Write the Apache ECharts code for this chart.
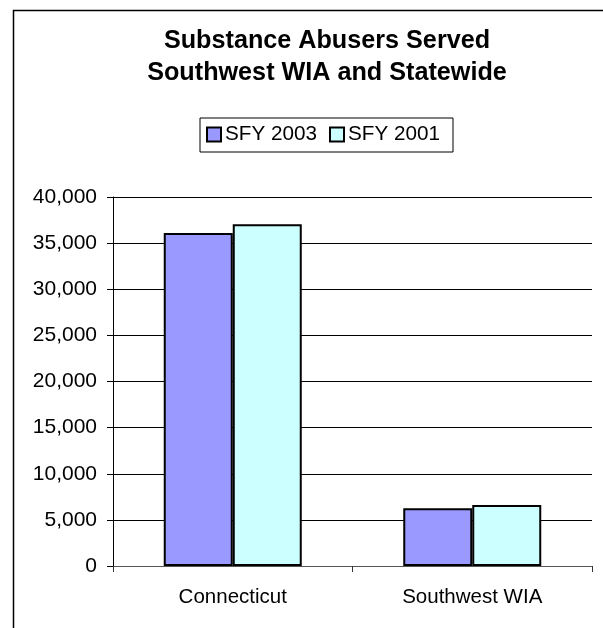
<!DOCTYPE html>
<html>
<head>
<meta charset="utf-8">
<script src="https://cdn.jsdelivr.net/npm/echarts@6/dist/echarts.min.js"></script>
<style>
html,body{margin:0;padding:0;background:#fff;}
#c{width:603px;height:628px;}
</style>
</head>
<body>
<div id="c"></div>
<script>
const categories = ['Connecticut', 'Southwest WIA'];
const seriesNames = ['SFY 2003', 'SFY 2001'];
const sfy2003 = [36100, 6260];
const sfy2001 = [37050, 6620];
const titleLines = ['Substance Abusers Served', 'Southwest WIA and Statewide'];

const chart = echarts.init(document.getElementById('c'), null, {renderer: 'canvas'});
const font = 'Arial, "Liberation Sans", sans-serif';
chart.setOption({
  backgroundColor: '#fff',
  animation: false,
  graphic: [
    {type: 'rect', left: 11, top: 8, shape: {width: 620, height: 640},
     style: {fill: 'none', stroke: '#000', lineWidth: 1.5}, silent: true}
  ],
  title: {
    text: titleLines.join('\n'),
    left: 327, top: 25, textAlign: 'center', padding: 0,
    textStyle: {fontFamily: font, fontSize: 25.2, fontWeight: 'bold', color: '#000', lineHeight: 32}
  },
  legend: {
    data: seriesNames,
    left: 200, top: 118,
    padding: [6, 13, 7, 6],
    itemGap: 12,
    itemWidth: 14, itemHeight: 14,
    icon: 'rect',
    borderColor: '#000', borderWidth: 1,
    itemStyle: {borderColor: '#000', borderWidth: 2},
    textStyle: {fontFamily: font, fontSize: 20.7, color: '#000', padding: [0, 0, 0, -1]}
  },
  grid: {left: 113, right: 11, top: 197, bottom: 62, containLabel: false},
  xAxis: {
    type: 'category',
    data: categories,
    axisLine: {lineStyle: {color: '#555', width: 1}},
    axisTick: {show: true, length: 6, lineStyle: {color: '#333'}},
    axisLabel: {fontFamily: font, fontSize: 20.5, color: '#000', margin: 21}
  },
  yAxis: {
    type: 'value',
    min: 0, max: 40000, interval: 5000,
    axisLine: {show: true, lineStyle: {color: '#000', width: 1}},
    axisTick: {show: true, length: 6, lineStyle: {color: '#000'}},
    axisLabel: {fontFamily: font, fontSize: 21, color: '#000', margin: 16,
      formatter: v => v.toLocaleString('en-US')},
    splitLine: {show: true, lineStyle: {color: '#000', width: 1}}
  },
  series: [
    {name: seriesNames[0], type: 'bar', data: sfy2003, barWidth: 69, barGap: '0%',
     itemStyle: {color: '#9999FF', borderColor: '#000', borderWidth: 2}},
    {name: seriesNames[1], type: 'bar', data: sfy2001, barWidth: 69, barGap: '0%',
     itemStyle: {color: '#CCFFFF', borderColor: '#000', borderWidth: 2}}
  ]
});
</script>
</body>
</html>
